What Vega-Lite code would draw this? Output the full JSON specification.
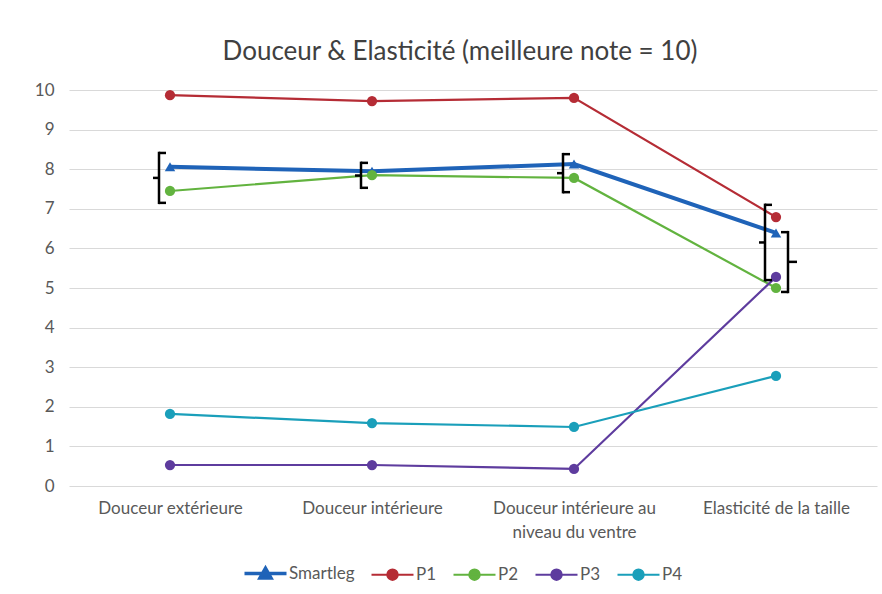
{
  "$schema": "https://vega.github.io/schema/vega-lite/v6.json",
  "width": 808,
  "height": 396,
  "autosize": "none",
  "padding": {"left": 69, "top": 90, "right": 5, "bottom": 108},
  "background": "white",
  "title": {
    "text": "Douceur & Elasticité (meilleure note = 10)",
    "font": "Lato",
    "fontSize": 26,
    "fontWeight": "normal",
    "color": "#404040",
    "anchor": "middle",
    "frame": "group",
    "dx": -13,
    "offset": 16
  },
  "datasets": {
    "main": [
      {"crit": "Douceur extérieure", "series": "Smartleg", "v": 8.06},
      {"crit": "Douceur intérieure", "series": "Smartleg", "v": 7.95},
      {"crit": "Douceur intérieure au niveau du ventre", "series": "Smartleg", "v": 8.13},
      {"crit": "Elasticité de la taille", "series": "Smartleg", "v": 6.39},
      {"crit": "Douceur extérieure", "series": "P1", "v": 9.87},
      {"crit": "Douceur intérieure", "series": "P1", "v": 9.72},
      {"crit": "Douceur intérieure au niveau du ventre", "series": "P1", "v": 9.8},
      {"crit": "Elasticité de la taille", "series": "P1", "v": 6.79},
      {"crit": "Douceur extérieure", "series": "P2", "v": 7.45},
      {"crit": "Douceur intérieure", "series": "P2", "v": 7.85},
      {"crit": "Douceur intérieure au niveau du ventre", "series": "P2", "v": 7.78},
      {"crit": "Elasticité de la taille", "series": "P2", "v": 5.0},
      {"crit": "Douceur extérieure", "series": "P3", "v": 0.53},
      {"crit": "Douceur intérieure", "series": "P3", "v": 0.53},
      {"crit": "Douceur intérieure au niveau du ventre", "series": "P3", "v": 0.43},
      {"crit": "Elasticité de la taille", "series": "P3", "v": 5.28},
      {"crit": "Douceur extérieure", "series": "P4", "v": 1.82},
      {"crit": "Douceur intérieure", "series": "P4", "v": 1.59},
      {"crit": "Douceur intérieure au niveau du ventre", "series": "P4", "v": 1.49},
      {"crit": "Elasticité de la taille", "series": "P4", "v": 2.78}
    ],
    "bl": [
      {"crit": "Douceur extérieure", "lo": 7.15, "hi": 8.41, "mid": 7.78},
      {"crit": "Douceur intérieure", "lo": 7.53, "hi": 8.16, "mid": 7.84},
      {"crit": "Douceur intérieure au niveau du ventre", "lo": 7.42, "hi": 8.38, "mid": 7.9},
      {"crit": "Elasticité de la taille", "lo": 5.2, "hi": 7.1, "mid": 6.15}
    ],
    "br": [
      {"crit": "Elasticité de la taille", "lo": 4.9, "hi": 6.41, "mid": 5.66}
    ]
  },
  "encoding": {
    "x": {
      "field": "crit",
      "type": "nominal",
      "sort": ["Douceur extérieure", "Douceur intérieure", "Douceur intérieure au niveau du ventre", "Elasticité de la taille"],
      "scale": {"type": "point", "padding": 0.5},
      "axis": {
        "title": null,
        "labelAngle": 0,
        "labelPadding": 14,
        "labelLineHeight": 24,
        "labelFont": "Lato",
        "labelFontSize": 17,
        "labelColor": "#595959",
        "ticks": false,
        "domain": false,
        "grid": false,
        "labelExpr": "datum.value == 'Douceur intérieure au niveau du ventre' ? ['Douceur intérieure au', 'niveau du ventre'] : datum.value"
      }
    }
  },
  "layer": [
    {
      "data": {"name": "main"},
      "transform": [{"filter": "datum.series == 'Smartleg'"}],
      "mark": {"type": "line", "strokeWidth": 4},
      "encoding": {
        "y": {"field": "v", "type": "quantitative", "scale": {"domain": [0, 10], "nice": false}},
        "color": {
          "field": "series",
          "type": "nominal",
          "scale": {
            "domain": ["Smartleg", "P1", "P2", "P3", "P4"],
            "range": ["#1F63B8", "#B52C35", "#62B33F", "#5E3C9E", "#1A9FBA"]
          },
          "legend": {
            "title": null,
            "orient": "none",
            "direction": "horizontal",
            "legendX": 188,
            "legendY": 475,
            "symbolSize": 1764,
            "symbolType": "M-1,0L1,0M-0.25,0A0.25,0.25 0 1,0 0.25,0A0.25,0.25 0 1,0 -0.25,0Z",
            "labelOffset": 15,
            "columnPadding": 12,
            "labelFont": "Lato",
            "labelFontSize": 17,
            "labelColor": "#595959",
            "encode": {
              "symbols": {
                "update": {
                  "shape": {"signal": "datum.value === 'Smartleg' ? 'M-1,0L1,0M-0.26,0.21L0,-0.25L0.26,0.21Z' : 'M-1,0L1,0M-0.25,0A0.25,0.25 0 1,0 0.25,0A0.25,0.25 0 1,0 -0.25,0Z'"},
                  "fill": {"scale": "color", "field": "value"},
                  "stroke": {"scale": "color", "field": "value"},
                  "strokeWidth": {"signal": "datum.value === 'Smartleg' ? 3.5 : 2"},
                  "opacity": {"value": 1},
                  "fillOpacity": {"value": 1}
                }
              }
            }
          }
        }
      }
    },
    {
      "data": {"name": "main"},
      "transform": [{"filter": "datum.series != 'Smartleg'"}],
      "mark": {"type": "line", "strokeWidth": 2.2},
      "encoding": {
        "y": {"field": "v", "type": "quantitative"},
        "color": {"field": "series", "type": "nominal"}
      }
    },
    {
      "data": {"name": "main"},
      "transform": [{"filter": "datum.series == 'Smartleg'"}],
      "mark": {"type": "point", "shape": "triangle-up", "filled": true, "opacity": 1, "size": 110},
      "encoding": {
        "y": {"field": "v", "type": "quantitative"},
        "color": {"field": "series", "type": "nominal"}
      }
    },
    {
      "data": {"name": "main"},
      "transform": [{"filter": "datum.series != 'Smartleg'"}],
      "mark": {"type": "circle", "opacity": 1, "size": 105},
      "encoding": {
        "y": {"field": "v", "type": "quantitative"},
        "color": {"field": "series", "type": "nominal"}
      }
    },
    {
      "data": {"name": "bl"},
      "mark": {"type": "rule", "color": "black", "strokeWidth": 2.5, "xOffset": -11, "strokeCap": "square"},
      "encoding": {"y": {"field": "lo", "type": "quantitative"}, "y2": {"field": "hi"}}
    },
    {
      "data": {"name": "bl"},
      "mark": {"type": "rule", "color": "black", "strokeWidth": 2.5, "xOffset": -11, "x2Offset": -4},
      "encoding": {"x2": {"field": "crit"}, "y": {"field": "hi", "type": "quantitative"}}
    },
    {
      "data": {"name": "bl"},
      "mark": {"type": "rule", "color": "black", "strokeWidth": 2.5, "xOffset": -11, "x2Offset": -4},
      "encoding": {"x2": {"field": "crit"}, "y": {"field": "lo", "type": "quantitative"}}
    },
    {
      "data": {"name": "bl"},
      "mark": {"type": "rule", "color": "black", "strokeWidth": 2.5, "xOffset": -11, "x2Offset": -17},
      "encoding": {"x2": {"field": "crit"}, "y": {"field": "mid", "type": "quantitative"}}
    },
    {
      "data": {"name": "br"},
      "mark": {"type": "rule", "color": "black", "strokeWidth": 2.5, "xOffset": 12, "strokeCap": "square"},
      "encoding": {"y": {"field": "lo", "type": "quantitative"}, "y2": {"field": "hi"}}
    },
    {
      "data": {"name": "br"},
      "mark": {"type": "rule", "color": "black", "strokeWidth": 2.5, "xOffset": 12, "x2Offset": 5},
      "encoding": {"x2": {"field": "crit"}, "y": {"field": "hi", "type": "quantitative"}}
    },
    {
      "data": {"name": "br"},
      "mark": {"type": "rule", "color": "black", "strokeWidth": 2.5, "xOffset": 12, "x2Offset": 5},
      "encoding": {"x2": {"field": "crit"}, "y": {"field": "lo", "type": "quantitative"}}
    },
    {
      "data": {"name": "br"},
      "mark": {"type": "rule", "color": "black", "strokeWidth": 2.5, "xOffset": 12, "x2Offset": 21},
      "encoding": {"x2": {"field": "crit"}, "y": {"field": "mid", "type": "quantitative"}}
    }
  ],
  "config": {
    "view": {"stroke": null},
    "axisY": {
      "title": null,
      "tickCount": 10,
      "labelFont": "Lato",
      "labelFontSize": 17,
      "labelColor": "#595959",
      "labelPadding": 15,
      "ticks": false,
      "domain": false,
      "gridColor": "#D9D9D9",
      "gridWidth": 1.2
    }
  }
}
